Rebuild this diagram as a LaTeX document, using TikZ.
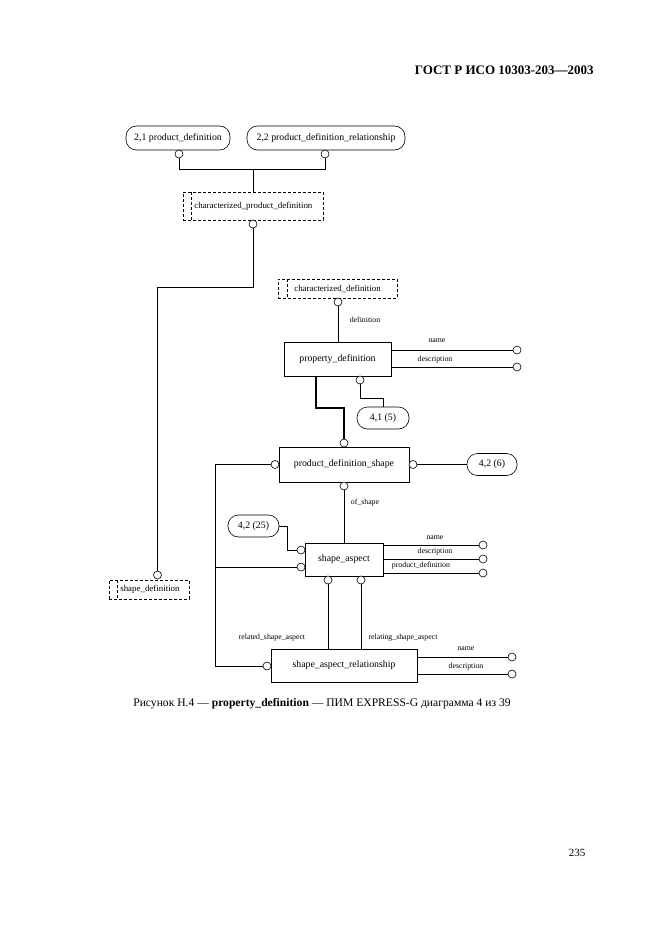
\documentclass[tikz,border=0pt]{standalone}
\usepackage{fontspec}
\setmainfont{Liberation Serif}
\begin{document}
\begin{tikzpicture}[x=1pt,y=-1pt,line width=0.6pt,
  ent/.style={draw,rectangle,inner sep=0pt,font=\fontsize{9.8}{11}\selectfont},
  refbox/.style={draw,rectangle,rounded corners=10.5pt,inner sep=0pt,font=\fontsize{9.8}{11}\selectfont},
  selbox/.style={draw,rectangle,dash pattern=on 3pt off 2pt,inner sep=0pt},
  seltext/.style={inner sep=0pt,anchor=west,font=\fontsize{8.9}{10}\selectfont},
  selline/.style={dash pattern=on 3pt off 2pt},
  circ/.style={draw,circle,inner sep=0pt,minimum size=8pt,fill=white},
  lbl/.style={inner sep=0pt,font=\fontsize{7.8}{9}\selectfont},
  thick line/.style={line width=2.2pt}]
\useasboundingbox (0,0) rectangle (661,936);

% header, caption, page number
\node[anchor=east,inner sep=0pt,font=\fontsize{13}{15}\selectfont\bfseries] (hdr) at (594,70) {ГОСТ Р ИСО 10303-203—2003};
\node[anchor=west,inner sep=0pt,font=\fontsize{11.6}{13}\selectfont] (cap) at (133,704) {Рисунок Н.4 — \textbf{property\_definition} — ПИМ EXPRESS-G диаграмма 4 из 39};
\node[inner sep=0pt,font=\fontsize{11}{13}\selectfont] (pg) at (577,853) {235};

% top references
\node[refbox,minimum width=104pt,minimum height=24pt] (r21) at (178,138) {2,1 product\_definition};
\node[refbox,minimum width=158pt,minimum height=24pt] (r22) at (326,138) {2,2 product\_definition\_relationship};
\node[circ] (c1) at (179,154) {};
\node[circ] (c2) at (325,154) {};
\coordinate (j1) at (179,169);
\coordinate (j2) at (325,169);
\coordinate (j3) at (253,169);

% characterized_product_definition
\node[selbox,minimum width=140pt,minimum height=28pt] (cpd) at (253,206) {};
\draw[selline] (191,192) -- (191,220);
\node[seltext] (cpdt) at (194,206) {characterized\_product\_definition};
\node[circ] (c3) at (253,224) {};
\coordinate (k1) at (253,287);
\coordinate (k2) at (157.5,287);

\draw (c1) -- (j1) -- (j2) -- (c2);
\draw (j3) -- (cpd.north);
\draw (c3) -- (k1) -- (k2);

% characterized_definition
\node[selbox,minimum width=119pt,minimum height=19pt] (cd) at (337.5,288.5) {};
\draw[selline] (287,279) -- (287,298);
\node[seltext] (cdt) at (294,288.5) {characterized\_definition};
\node[circ] (c5) at (338,302) {};

% shape_definition
\node[selbox,minimum width=80pt,minimum height=19pt] (sd) at (149,589.5) {};
\draw[selline] (117,580) -- (117,599);
\node[seltext] (sdt) at (120,589.5) {shape\_definition};
\node[circ] (c4) at (157.5,575) {};
\draw (k2) -- (c4);

% property_definition
\node[ent,minimum width=107pt,minimum height=34pt] (pd) at (337.5,359) {property\_definition};
\draw (c5) -- (pd.north -| c5);
\node[lbl] (ldef) at (365,320) {definition};
\node[circ] (pdn) at (517,350) {};
\node[circ] (pdd) at (517,367) {};
\draw (391,350) -- (pdn);
\draw (391,367) -- (pdd);
\node[lbl] (lpdn) at (437,341) {name};
\node[lbl] (lpdd) at (435,359.5) {description};
\node[circ] (c6) at (360,380) {};
\node[refbox,minimum width=52pt,minimum height=22pt] (r41) at (383,418) {4,1 (5)};
\coordinate (m1) at (360,398);
\coordinate (m2) at (383,398);
\draw (c6) -- (m1) -- (m2) -- (r41.north);

% product_definition_shape
\node[ent,minimum width=130pt,minimum height=35pt] (pds) at (344,464.5) {product\_definition\_shape};
\node[circ] (c7) at (344,443) {};
\coordinate (t1) at (316,376);
\coordinate (t2) at (316,408);
\coordinate (t3) at (344,408);
\draw[thick line] (t1) -- (t2) -- (t3) -- (c7);
\node[circ] (c8) at (275,464.5) {};
\node[circ] (c9) at (413,464.5) {};
\node[circ] (c10) at (344,486) {};
\node[refbox,minimum width=50pt,minimum height=22pt] (r426) at (492,464.5) {4,2 (6)};
\draw (c9) -- (r426);
\node[lbl] (lof) at (365,503) {of\_shape};

% shape_aspect
\node[ent,minimum width=78pt,minimum height=33pt] (sa) at (344,559.5) {shape\_aspect};
\draw (c10) -- (sa.north);
\node[circ] (c11) at (301,550) {};
\node[circ] (c12) at (301,567) {};
\node[refbox,minimum width=51pt,minimum height=22pt] (r4225) at (253.5,526) {4,2 (25)};
\coordinate (n1) at (287,526);
\coordinate (n2) at (287,550);
\draw (r4225.east) -- (n1) -- (n2) -- (c11);
\coordinate (v1) at (215,464.5);
\coordinate (v2) at (215,567);
\coordinate (v3) at (215,666);
\draw (c8) -- (v1) -- (v3);
\draw (v2) -- (c12);
\node[circ] (san) at (483,545) {};
\node[circ] (sad) at (483,559) {};
\node[circ] (sap) at (483,573) {};
\draw (383,545) -- (san);
\draw (383,559) -- (sad);
\draw (383,573) -- (sap);
\node[lbl] (lsan) at (435,538) {name};
\node[lbl] (lsad) at (435,552) {description};
\node[lbl] (lsap) at (421,565.5) {product\_definition};
\node[circ] (c13) at (328,580) {};
\node[circ] (c14) at (361,580) {};

% shape_aspect_relationship
\node[ent,minimum width=146pt,minimum height=33pt] (sar) at (344,665.5) {shape\_aspect\_relationship};
\node[circ] (c15) at (267,666) {};
\draw (v3) -- (c15);
\draw (c13) -- (c13 |- sar.north);
\draw (c14) -- (c14 |- sar.north);
\node[lbl] (lrel) at (272,638) {related\_shape\_aspect};
\node[lbl] (lreg) at (403,638) {relating\_shape\_aspect};
\node[circ] (sarn) at (512,657) {};
\node[circ] (sard) at (512,674) {};
\draw (417,657) -- (sarn);
\draw (417,674) -- (sard);
\node[lbl] (lsarn) at (466,649) {name};
\node[lbl] (lsard) at (466,667) {description};
\end{tikzpicture}
\end{document}
